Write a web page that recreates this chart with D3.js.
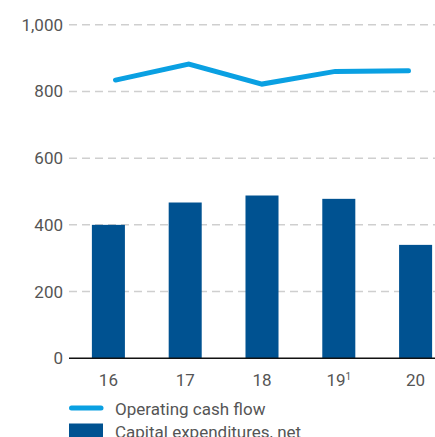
<!DOCTYPE html>
<html>
<head>
<meta charset="utf-8">
<script src="https://cdn.jsdelivr.net/npm/d3@7/dist/d3.min.js"></script>
<style>
  html, body { margin: 0; padding: 0; background: #fff; }
  svg { display: block; }
  text { font-family: Roboto, "Noto Sans", sans-serif; fill: #555; }
</style>
</head>
<body>
<svg id="chart" width="435" height="437"></svg>
<script>
// Years on the category axis
const years = ["16", "17", "18", "19", "20"];
// Label suffix (footnote marker) per year
const yearNotes = ["", "", "", "1", ""];
// Operating cash flow
const operatingCashFlow = [834, 882, 822, 860, 862];
// Capital expenditures, net
const capex = [400, 467, 488, 478, 340];
// Value axis ticks
const yTicks = [0, 200, 400, 600, 800, 1000];

const svg = d3.select("#chart");
const W = 435, H = 437;
const plotLeft = 69, plotBottom = 358.3, plotTop = 24.7;

const y = d3.scaleLinear().domain([0, 1000]).range([plotBottom, plotTop]);
const xBar = d3.scaleBand().domain(years).range([70, 454]).paddingInner(0.57).paddingOuter(0.285);
const xLine = d3.scalePoint().domain(years).range([115.5, 408.5]);

const colLine = "#0aa0e2";
const colBar = "#005291";

// Dashed horizontal gridlines and value labels
const grid = svg.append("g");
yTicks.filter(t => t > 0).forEach(t => {
  grid.append("line")
    .attr("x1", plotLeft).attr("x2", W)
    .attr("y1", y(t)).attr("y2", y(t))
    .attr("stroke", "#cfcfcf").attr("stroke-width", 1.5)
    .attr("stroke-dasharray", "8,5");
});

const yAxis = d3.axisLeft(y).tickValues(yTicks).tickSize(0).tickPadding(6)
  .tickFormat(d3.format(","));
svg.append("g").attr("transform", `translate(${plotLeft},0)`).call(yAxis)
  .call(g => g.select(".domain").remove())
  .call(g => g.selectAll("text").attr("font-size", 17).attr("fill", "#555")
    .style("font-family", "Roboto, sans-serif"));

// Bars
svg.append("g").selectAll("rect").data(years).join("rect")
  .attr("x", d => xBar(d))
  .attr("width", xBar.bandwidth())
  .attr("y", (d, i) => y(capex[i]))
  .attr("height", (d, i) => y(0) - y(capex[i]))
  .attr("fill", colBar);

// Baseline
svg.append("line")
  .attr("x1", plotLeft).attr("x2", W)
  .attr("y1", y(0)).attr("y2", y(0))
  .attr("stroke", "#111").attr("stroke-width", 1.5);

// Category labels
const xl = svg.append("g").selectAll("text").data(years).join("text")
  .attr("x", d => xBar(d) + xBar.bandwidth() / 2)
  .attr("y", 386)
  .attr("text-anchor", "middle")
  .attr("font-size", 17);
xl.append("tspan").text(d => d);
xl.append("tspan").text((d, i) => yearNotes[i])
  .attr("font-size", 10).attr("dy", -6);

// Operating cash flow line
const line = d3.line().x((d, i) => xLine(years[i])).y(d => y(d));
svg.append("path").datum(operatingCashFlow)
  .attr("d", line)
  .attr("fill", "none")
  .attr("stroke", colLine).attr("stroke-width", 5)
  .attr("stroke-linecap", "round").attr("stroke-linejoin", "miter");

// Legend
const lg = svg.append("g");
lg.append("line").attr("x1", 71.5).attr("x2", 101).attr("y1", 408).attr("y2", 408)
  .attr("stroke", colLine).attr("stroke-width", 5).attr("stroke-linecap", "round");
lg.append("text").attr("x", 115).attr("y", 415).attr("font-size", 17).text("Operating cash flow");
lg.append("rect").attr("x", 69).attr("y", 423.5).attr("width", 34).attr("height", 16).attr("fill", colBar);
lg.append("text").attr("x", 115).attr("y", 437.5).attr("font-size", 17).text("Capital expenditures, net");
</script>
</body>
</html>
